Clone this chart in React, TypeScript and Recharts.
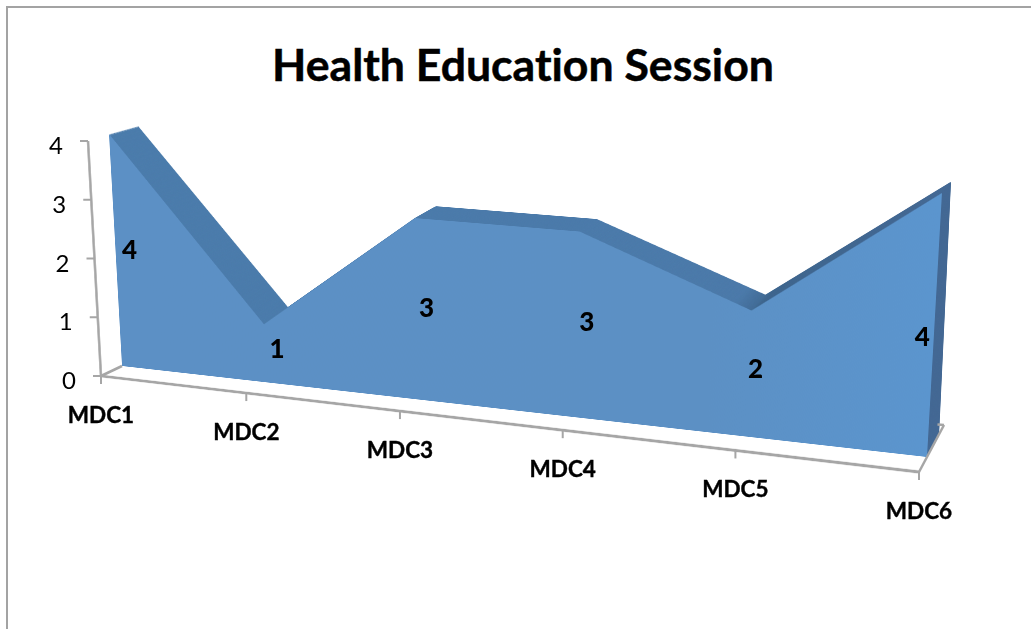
import React from "react";
import { AreaChart, Area, LineChart, Line, XAxis, YAxis, LabelList } from "recharts";

const categories = ["MDC1", "MDC2", "MDC3", "MDC4", "MDC5", "MDC6"];
const sessions = [4, 1, 3, 3, 2, 4];
const yTicks = [0, 1, 2, 3, 4];
const TITLE = "Health Education Session";

const rows = categories.map((name, i) => ({ name, sessions: sessions[i] }));

type P = [number, number];
const W = 1000;
const H = 400;
const M = 10;

function solve(q: P[]) {
  const [[x0, y0], [x1, y1], [x2, y2], [x3, y3]] = q;
  const dx1 = x1 - x2, dx2 = x3 - x2, sx = x0 - x1 + x2 - x3;
  const dy1 = y1 - y2, dy2 = y3 - y2, sy = y0 - y1 + y2 - y3;
  const den = dx1 * dy2 - dx2 * dy1;
  const g = (sx * dy2 - dx2 * sy) / den;
  const h = (dx1 * sy - sx * dy1) / den;
  return { a: x1 - x0 + g * x1, b: x3 - x0 + h * x3, c: x0, d: y1 - y0 + g * y1, e: y3 - y0 + h * y3, f: y0, g, h };
}
function css(q: P[]) {
  const { a, b, c, d, e, f, g, h } = solve(q);
  const m = [a / W, d / W, 0, g / W, b / H, e / H, 0, h / H, 0, 0, 1, 0, c, f, 0, 1];
  return `matrix3d(${m.join(",")}) translate(${-M}px,${-M}px)`;
}
function project(q: P[], x: number, y: number): P {
  const { a, b, c, d, e, f, g, h } = solve(q);
  const u = x / W, v = y / H;
  const k = g * u + h * v + 1;
  return [(a * u + b * v + c) / k, (d * u + e * v + f) / k];
}

const FRONT: P[] = [[109, 134], [942, 193], [927, 457], [122, 366]];
const BACK: P[] = [[138, 126], [951, 182], [939, 436], [150, 348]];
const WALL: P[] = [[88, 141], [904, 200], [919, 472], [101, 376]];
const FLOOR: P[] = [[122, 366], [944, 425], [919, 472], [101, 376]];

const STEPS = 40;
const depthSlices: P[][] = Array.from({ length: STEPS }, (_, s) => {
  const t = s / STEPS;
  return BACK.map((p, i) => [p[0] + (FRONT[i][0] - p[0]) * t, p[1] + (FRONT[i][1] - p[1]) * t] as P);
});

const LABEL_NUDGE: P[] = [[14, -2], [12, -4], [10, -2], [8, -4], [6, -5], [-12, 10]];
const AXIS = "#a6a6a6";
const FONT = "Lato, Carlito, sans-serif";
const layer = (q: P[]): React.CSSProperties => ({
  position: "absolute", left: 0, top: 0, transformOrigin: "0 0", transform: css(q),
});
const size = { width: W + 2 * M, height: H + 2 * M, margin: { top: M, right: M, bottom: M, left: M } };

function XTick(props: any) {
  const [px, py] = project(WALL, props.x, H);
  const last = props.index === categories.length - 1;
  const [ex, ey] = project(FLOOR, props.x, 0);
  const [rx, ry] = project(FLOOR, props.x - 2, 0);
  return (
    <g>
      <line x1={px} y1={py} x2={px} y2={py + 8} stroke={AXIS} strokeWidth={2} />
      {(props.index === 0 || last) && (
        <line x1={px} y1={py} x2={ex} y2={ey} stroke={AXIS} strokeWidth={2.5} />
      )}
      {last && <line x1={ex} y1={ey} x2={rx} y2={ry} stroke={AXIS} strokeWidth={2.5} />}
      <text x={px} y={py + 47} textAnchor="middle" fontFamily={FONT} fontWeight={700} fontSize={22.5} fill="#000" stroke="#000" strokeWidth={0.4}>
        {props.payload.value}
      </text>
    </g>
  );
}
function YTick(props: any) {
  const [px, py] = project(WALL, 0, props.y);
  return (
    <g>
      <line x1={px} y1={py} x2={px - 8} y2={py} stroke={AXIS} strokeWidth={2} />
      <text x={px - 32} y={py + 13} textAnchor="middle" fontFamily={FONT} fontSize={24} fill="#000">
        {props.payload.value}
      </text>
    </g>
  );
}
function DataLabel(props: any) {
  const { x, y, value, index } = props;
  const [px, py] = project(FRONT, x, (y + H) / 2);
  const [nx, ny] = LABEL_NUDGE[index];
  return (
    <text x={px + nx} y={py + ny + 9} textAnchor="middle" fontFamily={FONT} fontWeight={900} fontSize={26} fill="#000">
      {value}
    </text>
  );
}

export default function App() {
  return (
    <div style={{ position: "absolute", left: 0, top: 0, width: 1031, height: 629, overflow: "hidden", background: "#fff" }}>
      <div style={{ position: "absolute", left: 6, top: 6, width: 1100, height: 700, border: "2px solid #a3a3a3" }} />
      <div style={{ position: "absolute", left: 0, width: 1046, top: 37, textAlign: "center", fontFamily: FONT, fontWeight: 700, fontSize: 44.6, lineHeight: "54px", color: "#000", fontVariantLigatures: "none", WebkitTextStroke: "0.5px #000" }}>
        {TITLE}
      </div>

      {/* value and category axis lines */}
      <div style={layer(WALL)}>
        <LineChart width={W + 2 * M} height={H + 2 * M} margin={{ top: M, right: M, bottom: M - 1, left: M - 1 }} data={rows}>
          <XAxis dataKey="name" height={1} tick={false} tickLine={false} scale="point" stroke={AXIS} strokeWidth={4.5} />
          <YAxis width={1} tick={false} tickLine={false} domain={[0, 4]} stroke={AXIS} strokeWidth={3.5} />
          <Line dataKey="sessions" stroke="none" dot={false} isAnimationActive={false} />
        </LineChart>
      </div>

      {/* depth of the area: slices between the rear and the front face */}
      {depthSlices.map((q, s) => (
        <div key={s} style={layer(q)}>
          <AreaChart {...size} data={rows}>
            <defs>
              <linearGradient id={`depth${s}`} x1="0" y1="0" x2="1" y2="0">
                <stop offset="0" stopColor="#4a7bab" />
                <stop offset="0.78" stopColor="#4a79a9" />
                <stop offset="0.81" stopColor="#3c648d" />
                <stop offset="1" stopColor="#426793" />
              </linearGradient>
            </defs>
            <XAxis dataKey="name" hide scale="point" />
            <YAxis hide domain={[0, 4]} />
            <Area type="linear" dataKey="sessions" stroke="none" fill={`url(#depth${s})`} fillOpacity={1} isAnimationActive={false} />
          </AreaChart>
        </div>
      ))}

      {/* front face of the area */}
      <div style={layer(FRONT)}>
        <AreaChart {...size} data={rows}>
          <defs>
            <linearGradient id="face" x1="0" y1="0" x2="1" y2="0">
              <stop offset="0" stopColor="#5c90c5" />
              <stop offset="0.75" stopColor="#5c90c4" />
              <stop offset="1" stopColor="#5b95ce" />
            </linearGradient>
          </defs>
          <XAxis dataKey="name" hide scale="point" />
          <YAxis hide domain={[0, 4]} />
          <Area type="linear" dataKey="sessions" stroke="none" fill="url(#face)" fillOpacity={1} isAnimationActive={false} />
        </AreaChart>
      </div>

      {/* upright text, ticks and value labels */}
      <div style={{ position: "absolute", left: 0, top: 0 }}>
        <LineChart width={1031} height={629} data={rows} margin={{ top: 0, left: -1, right: 31, bottom: 228 }}>
          <XAxis dataKey="name" height={1} scale="point" interval={0} axisLine={false} tickLine={false} tick={<XTick />} />
          <YAxis width={1} domain={[0, 4]} ticks={yTicks} interval={0} axisLine={false} tickLine={false} tick={<YTick />} />
          <Line dataKey="sessions" stroke="none" dot={false} isAnimationActive={false}>
            <LabelList dataKey="sessions" content={<DataLabel />} />
          </Line>
        </LineChart>
      </div>
    </div>
  );
}
